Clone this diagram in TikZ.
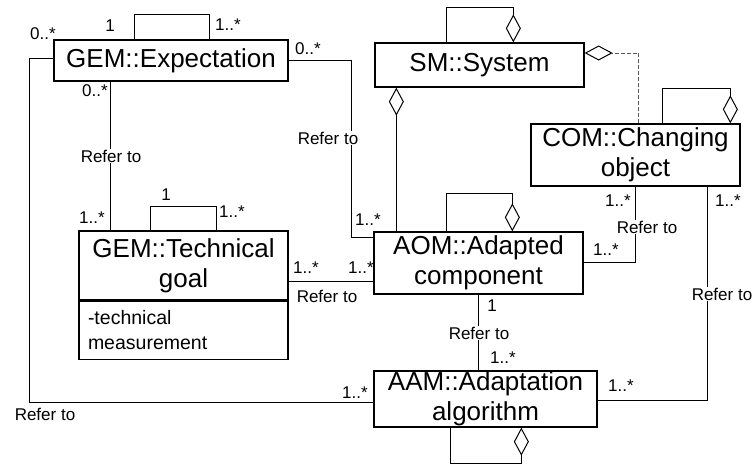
\documentclass[tikz,border=0pt]{standalone}
\usepackage{fontspec}
\setmainfont{Liberation Sans}
\usetikzlibrary{arrows.meta}
\usetikzlibrary{calc,positioning}

\tikzset{
  cls/.style={draw, line width=1.3pt, inner sep=0pt, align=center, font=\fontsize{26}{30}\selectfont},
  mult/.style={inner sep=1pt, font=\fontsize{17}{20}\selectfont},
  refer/.style={mult, fill=white},
  agg/.style={-{Diamond[open,length=28pt,width=15pt,color=black]}},
}

\begin{document}
\begin{tikzpicture}[x=1pt,y=-1pt,line width=1pt]
\useasboundingbox (0,0) rectangle (753,464);
% classes
\node[cls, minimum width=234pt, minimum height=41pt] (exp) at (171,60.5) {GEM::Expectation};
\node[cls, minimum width=209pt, minimum height=44pt] (sys) at (479.5,65) {SM::System};
\node[cls, minimum width=209pt, minimum height=62pt] (com) at (635.5,155) {COM::Changing\\object};
\node[cls, minimum width=209pt, minimum height=69pt] (goal) at (183.5,265.5) {GEM::Technical\\goal};
\node[cls, minimum width=209pt, minimum height=58pt, below=0pt of goal, align=left, text width=191pt,
  font=\fontsize{19.5}{25}\selectfont] (goalattr) {-technical\\measurement};
\node[cls, minimum width=209pt, minimum height=62pt] (aom) at (478.5,263) {AOM::Adapted\\component};
\node[cls, minimum width=223pt, minimum height=56pt] (aam) at (485.5,399) {AAM::Adaptation\\algorithm};
% self loops
\draw ($(exp.north west)+(81,0)$) -- ++(0,-25) -| ($(exp.north west)+(156,0)$);
\draw ($(goal.north west)+(72,0)$) -- ++(0,-24) -| ($(goal.north west)+(138,0)$);
\draw[agg] ($(sys.north west)+(72,0)$) -- ++(0,-35) -| ($(sys.north west)+(139,0)$);
\draw[agg] ($(com.north west)+(132,0)$) -- ++(0,-35) -| ($(com.north west)+(200,0)$);
\draw[agg] ($(aom.north west)+(73,0)$) -- ++(0,-38) -| ($(aom.north west)+(139,0)$);
\draw[agg] ($(aam.south west)+(77,0)$) -- ++(0,36) -| ($(aam.south west)+(148,0)$);
% associations
\draw ($(exp.west)+(0,-2)$) -- ++(-24,0) |- ($(aam.west)+(0,3)$);
\draw ($(exp.south west)+(57,0)$) -- ($(goal.north west)+(32,0)$);
\draw (exp.east) -- ++(63,0) |- ($(aom.north west)+(0,6)$);
\draw ($(goal.east)+(0,15.5)$) -- ($(aom.west |- goal.east)+(0,15.5)$);
\draw ($(com.south west)+(105,0)$) |- ($(aom.east)+(0,-1)$);
\draw ($(com.south west)+(177,0)$) |- ($(aam.east)+(0,1)$);
\draw ($(aom.south west)+(105,0)$) -- ($(aam.north west)+(105,0)$);
% aggregations
\draw[agg] ($(aom.north west)+(23,0)$) -- ($(sys.south west)+(22,0)$);
\draw[agg, black!65, dash pattern=on 4pt off 2pt] ($(com.north west)+(108,0)$) |- ($(sys.east)+(0,-12)$);
% multiplicities
\foreach \x/\y/\t [count=\i] in {43/34/0..*, 110/26/1, 228/25/1..*, 95/91/0..*, 92/218/1..*,
  166/195/1, 232/212/1..*, 306/268/1..*, 361/268/1..*, 355/393/1..*, 308/49/0..*,
  368/220/1..*, 492/306/1, 503/358/1..*, 618/201/1..*, 606/250/1..*, 728/201/1..*, 621/386/1..*}
  \node[mult] (m\i) at (\x,\y) {\t};
% role names
\node[refer] (r1) at (111,156) {Refer to};
\node[refer] (r2) at (328,138) {Refer to};
\node[refer] (r3) at (327,296) {Refer to};
\node[refer] (r4) at (45,414) {Refer to};
\node[refer] (r5) at (647,227) {Refer to};
\node[refer] (r6) at (722,294) {Refer to};
\node[refer] (r7) at (479,333) {Refer to};
\end{tikzpicture}
\end{document}
